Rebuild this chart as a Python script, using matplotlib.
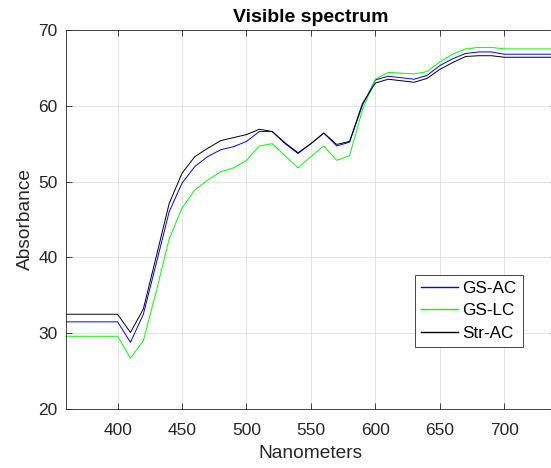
import matplotlib
matplotlib.use('Agg')
import matplotlib.pyplot as plt

plt.rcParams['font.family'] = ['Liberation Sans', 'DejaVu Sans']

# wavelength (nm)
nm = [360, 370, 380, 390, 400, 410, 420, 430, 440, 450, 460, 470, 480, 490,
      500, 510, 520, 530, 540, 550, 560, 570, 580, 590, 600, 610, 620, 630,
      640, 650, 660, 670, 680, 690, 700, 710, 720, 730, 740]

gs_ac = [31.5, 31.5, 31.5, 31.5, 31.5, 28.8, 32.5, 39.2, 46.0, 49.8, 52.0, 53.3,
         54.2, 54.6, 55.3, 56.6, 56.6, 55.0, 53.7, 55.0, 56.4, 54.7, 55.2, 60.1,
         63.4, 63.9, 63.7, 63.5, 64.0, 65.3, 66.2, 66.9, 67.1, 67.1, 66.8, 66.8,
         66.8, 66.8, 66.8]

gs_lc = [29.6, 29.6, 29.6, 29.6, 29.6, 26.7, 29.0, 35.5, 42.4, 46.5, 48.9, 50.2,
         51.3, 51.8, 52.8, 54.7, 55.0, 53.4, 51.8, 53.3, 54.7, 52.8, 53.4, 59.5,
         63.5, 64.4, 64.3, 64.2, 64.5, 65.8, 66.8, 67.5, 67.7, 67.7, 67.5, 67.5,
         67.5, 67.5, 67.5]

str_ac = [32.5, 32.5, 32.5, 32.5, 32.5, 30.1, 33.2, 40.1, 47.1, 51.1, 53.3, 54.4,
          55.4, 55.8, 56.2, 56.9, 56.6, 55.1, 53.8, 55.0, 56.4, 54.9, 55.3, 60.3,
          63.0, 63.5, 63.3, 63.1, 63.6, 64.8, 65.7, 66.5, 66.6, 66.6, 66.4, 66.4,
          66.4, 66.4, 66.4]

dark = '#262626'

fig = plt.figure(figsize=(5.51, 4.68), dpi=100)
ax = fig.add_axes([0.1198, 0.126, 0.889, 0.81])

ax.plot(nm, gs_ac, color='#0000ff', lw=0.7, label='GS-AC')
ax.plot(nm, gs_lc, color='#00ff00', lw=0.7, label='GS-LC')
ax.plot(nm, str_ac, color='black', lw=0.7, label='Str-AC')

ax.set_xlim(360, 740)
ax.set_ylim(20, 70)
ax.set_xticks([400, 450, 500, 550, 600, 650, 700])
ax.set_yticks([20, 30, 40, 50, 60, 70])
ax.grid(True, color='#dfdfdf', lw=0.6)
ax.set_axisbelow(True)

ax.tick_params(direction='in', top=True, right=True, length=4, width=0.6,
               colors=dark, labelsize=12.5)
ax.tick_params(axis='x', pad=10)
ax.tick_params(axis='y', pad=6)
for s in ax.spines.values():
    s.set_color(dark)
    s.set_linewidth(0.6)

ax.set_xlabel('Nanometers', fontsize=13.8, color=dark, labelpad=5)
ax.set_ylabel('Absorbance', fontsize=13.8, color=dark, labelpad=3)
ax.set_title('Visible spectrum', fontsize=14, fontweight='bold', pad=6)

leg = ax.legend(loc='lower left', bbox_to_anchor=(0.712, 0.164), borderaxespad=0,
                fontsize=12.3, fancybox=False, framealpha=1, edgecolor=dark,
                handlelength=2.2, handletextpad=0.25, labelspacing=0.45,
                borderpad=0.35)
leg.get_frame().set_linewidth(0.6)
for ln in leg.get_lines():
    ln.set_linewidth(1.0)

fig.savefig('out.png', dpi=100)
